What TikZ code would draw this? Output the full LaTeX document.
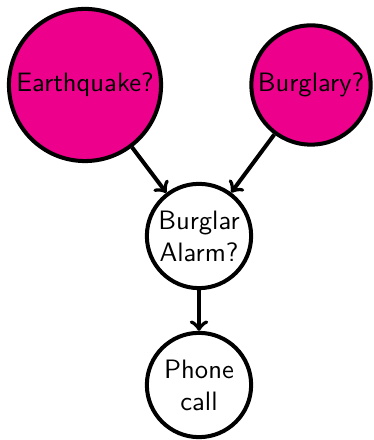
\documentclass[tikz,border=0pt]{standalone}
\usetikzlibrary{arrows}

\definecolor{causepink}{HTML}{EC008C}

\begin{document}
\begin{tikzpicture}[font=\sffamily\fontsize{10.6}{12.8}\selectfont,
    var/.style={circle, draw, line width=1.6pt, inner sep=1pt, align=center},
    cause/.style={var, fill=causepink},
    edge/.style={->, line width=1.6pt}]

\useasboundingbox (0,0) rectangle (5.222,6.16);

\node [cause, minimum size=2.13cm] (earthquake) at (1.19,4.97) {Earthquake?};
\node [cause, minimum size=1.67cm] (burglary) at (4.354,4.97) {Burglary?};

\node [var, minimum size=1.46cm] (alarm) at (2.786,2.856) {Burglar\\Alarm?};
\node [var, minimum size=1.46cm] (call) at (2.786,0.77) {Phone\\call};

\draw [edge] (earthquake) -- (alarm);
\draw [edge] (burglary) -- (alarm);
\draw [edge] (alarm) -- (call);

\end{tikzpicture}
\end{document}
